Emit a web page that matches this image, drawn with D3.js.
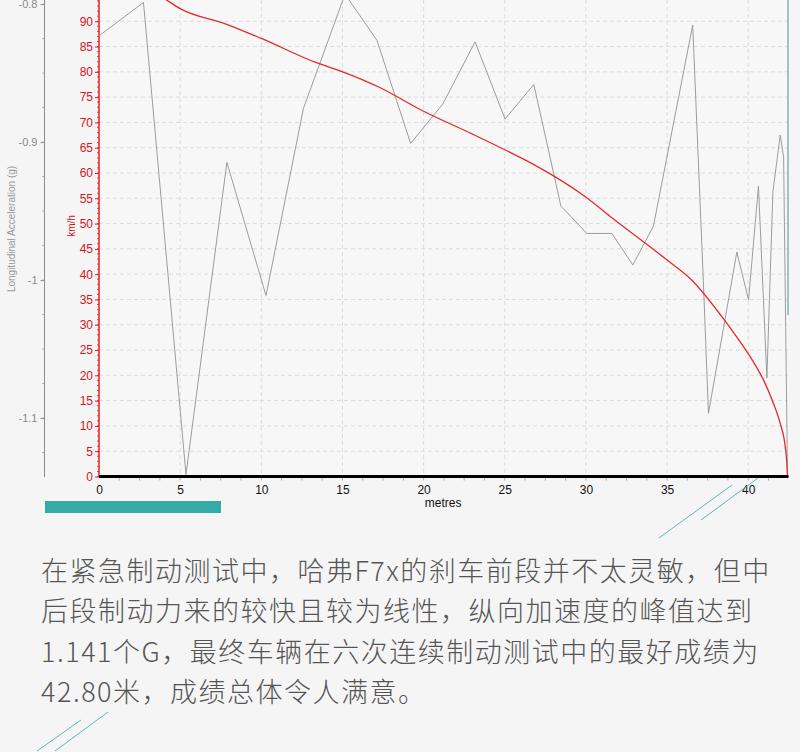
<!DOCTYPE html>
<html>
<head>
<meta charset="utf-8">
<script src="https://cdn.jsdelivr.net/npm/d3@7"></script>
<style>
body { margin: 0; background: #f5f5f5; }
svg { display: block; }
</style>
</head>
<body>
<svg id="chart" width="800" height="752"></svg>
<script>
// speed trace (red, km/h) against distance
var speedDist = [0, 4.07, 5.0, 7.87, 10.0, 13.4, 14.85, 17.3, 20.0, 23.07, 25.0, 26.77, 30.05, 31.5, 35.0, 36.5, 38.4, 39.2, 40.12, 40.94, 41.55, 41.97, 42.28, 42.38, 42.42];
var speedKmh  = [103, 94.4, 92.5, 89.4, 86.6, 81.8, 80.2, 76.9, 72.2, 67.6, 64.6, 61.7, 55.1, 51.4, 42.8, 38.9, 31.5, 28.0, 23.7, 19.1, 14.5, 10.5, 5.9, 2.6, 0];

// longitudinal acceleration (grey, g) against distance
var accDist = [0, 2.74, 5.36, 7.88, 10.29, 12.6, 15.16, 17.12, 19.2, 21.18, 23.17, 25.02, 26.79, 28.46, 30.06, 31.6, 32.89, 34.16, 36.58, 37.24, 37.55, 39.3, 40.02, 40.63, 41.15, 41.52, 41.97, 42.18, 42.42];
var accG    = [-0.823, -0.7988, -1.141, -0.9147, -1.0112, -0.8754, -0.7928, -0.8261, -0.9009, -0.8725, -0.8273, -0.8833, -0.8582, -0.9464, -0.9662, -0.9662, -0.9891, -0.9609, -0.8152, -1.0022, -1.0966, -0.9797, -1.0145, -0.9319, -1.0710, -0.9360, -0.8949, -0.9107, -1.142];

var distTicks  = [0, 5, 10, 15, 20, 25, 30, 35, 40];
var speedTicks = [0, 5, 10, 15, 20, 25, 30, 35, 40, 45, 50, 55, 60, 65, 70, 75, 80, 85, 90, 95];
var accTicks   = [-0.8, -0.9, -1, -1.1];

var bodyLines = [
  "在紧急制动测试中，哈弗F7x的刹车前段并不太灵敏，但中",
  "后段制动力来的较快且较为线性，纵向加速度的峰值达到",
  "1.141个G，最终车辆在六次连续制动测试中的最好成绩为",
  "42.80米，成绩总体令人满意。"
];

var plotLeft = 99, plotRight = 787.5, plotBottom = 476.5;
var axisFont = "'Liberation Sans', Arial, sans-serif";

var svg = d3.select('#chart');

var x = d3.scaleLinear().domain([0, 42.42]).range([plotLeft, plotRight]);
var ySpeed = d3.scaleLinear().domain([0, 94.2]).range([plotBottom, 0]);
var yAcc = d3.scaleLinear().domain([-1.142, -0.797]).range([476, 0]);

svg.append('rect')
  .attr('x', 0).attr('y', 0)
  .attr('width', 800).attr('height', 752)
  .style('fill', '#f5f5f5');

svg.append('rect')
  .attr('x', plotLeft).attr('y', 0)
  .attr('width', plotRight - plotLeft).attr('height', plotBottom)
  .style('fill', '#f7f7f7');

svg.append('defs').append('clipPath').attr('id', 'plotClip')
  .append('rect')
  .attr('x', plotLeft).attr('y', 0)
  .attr('width', plotRight - plotLeft + 1).attr('height', plotBottom);

// dashed grid
var grid = svg.append('g').attr('id', 'grid');
grid.selectAll('line.vgrid')
  .data(distTicks.filter(function(d) { return d > 0; }))
  .enter().append('line')
  .attr('class', 'vgrid')
  .attr('x1', function(d) { return x(d); })
  .attr('x2', function(d) { return x(d); })
  .attr('y1', 0).attr('y2', plotBottom)
  .style('stroke', '#dcdcdc')
  .style('stroke-dasharray', '4,3');

grid.selectAll('line.hgrid')
  .data(speedTicks.filter(function(d) { return d > 0 && d < 95; }))
  .enter().append('line')
  .attr('class', 'hgrid')
  .attr('x1', plotLeft).attr('x2', plotRight)
  .attr('y1', function(d) { return ySpeed(d); })
  .attr('y2', function(d) { return ySpeed(d); })
  .style('stroke', '#dcdcdc')
  .style('stroke-dasharray', '4,3');

// left acceleration axis (grey)
var accAxis = svg.append('g')
  .attr('transform', 'translate(44.5,0)')
  .call(d3.axisLeft(yAcc).tickValues(accTicks).tickSize(4).tickSizeOuter(0)
    .tickFormat(function(d) { return String(d); }));
accAxis.select('.domain').attr('d', 'M0,0V477').style('stroke', '#8a8a8a');
accAxis.selectAll('.tick line').style('stroke', '#8a8a8a');
accAxis.selectAll('.tick text')
  .style('fill', '#8a8a8a')
  .style('font-family', axisFont)
  .style('font-size', '11px');

accAxis.selectAll('line.minor')
  .data(d3.range(-1.125, -0.79, 0.025))
  .enter().append('line')
  .attr('class', 'minor')
  .attr('x1', -2).attr('x2', 0)
  .attr('y1', function(d) { return yAcc(d); })
  .attr('y2', function(d) { return yAcc(d); })
  .style('stroke', '#9a9a9a');

svg.append('text')
  .attr('transform', 'translate(15,229) rotate(-90)')
  .attr('text-anchor', 'middle')
  .style('font-family', axisFont)
  .style('font-size', '10px')
  .style('fill', '#999')
  .text('Longitudinal Acceleration (g)');

// red speed axis
var speedAxis = svg.append('g')
  .attr('transform', 'translate(' + plotLeft + ',0)')
  .call(d3.axisLeft(ySpeed).tickValues(speedTicks).tickSize(4).tickSizeOuter(0).tickPadding(2));
speedAxis.select('.domain').attr('d', 'M0,0V' + plotBottom).style('stroke', '#e0201e').style('stroke-width', 1.5);
speedAxis.selectAll('.tick line').style('stroke', '#e0201e');
speedAxis.selectAll('.tick text')
  .style('fill', '#d8141c')
  .style('font-family', axisFont)
  .style('font-size', '12px');

speedAxis.selectAll('line.minor')
  .data(d3.range(0, 95, 1))
  .enter().append('line')
  .attr('class', 'minor')
  .attr('x1', -2).attr('x2', 0)
  .attr('y1', function(d) { return ySpeed(d); })
  .attr('y2', function(d) { return ySpeed(d); })
  .style('stroke', '#e0201e')
  .style('stroke-width', 0.8);

svg.append('text')
  .attr('transform', 'translate(75,226) rotate(-90)')
  .attr('text-anchor', 'middle')
  .style('font-family', axisFont)
  .style('font-size', '10px')
  .style('fill', '#d8141c')
  .text('km/h');

// x axis
var distAxis = svg.append('g')
  .attr('transform', 'translate(0,' + plotBottom + ')')
  .call(d3.axisBottom(x).tickValues(distTicks).tickSize(0).tickPadding(9));
distAxis.select('.domain').remove();
distAxis.selectAll('.tick text')
  .style('fill', '#111')
  .style('font-family', axisFont)
  .style('font-size', '12px');

distAxis.selectAll('line.minor')
  .data(d3.range(1.25, 42.4, 1.25))
  .enter().append('line')
  .attr('class', 'minor')
  .attr('x1', function(d) { return x(d); })
  .attr('x2', function(d) { return x(d); })
  .attr('y1', 1).attr('y2', 4)
  .style('stroke', '#aaa');

svg.append('text')
  .attr('x', x(21.2)).attr('y', 507)
  .attr('text-anchor', 'middle')
  .style('font-family', axisFont)
  .style('font-size', '12px')
  .style('fill', '#111')
  .text('metres');

// data lines
var plot = svg.append('g').attr('clip-path', 'url(#plotClip)');

var accLine = d3.line()
  .x(function(d, i) { return x(accDist[i]); })
  .y(function(d) { return yAcc(d); });

plot.append('path')
  .attr('d', accLine(accG))
  .style('fill', 'none')
  .style('stroke', '#9c9c9c')
  .style('stroke-width', 1);

var speedLine = d3.line()
  .x(function(d, i) { return x(speedDist[i]); })
  .y(function(d) { return ySpeed(d); })
  .curve(d3.curveMonotoneX);

plot.append('path')
  .attr('d', speedLine(speedKmh))
  .style('fill', 'none')
  .style('stroke', '#e42b2b')
  .style('stroke-width', 1.3);

// baseline and right border
svg.append('line')
  .attr('x1', plotLeft).attr('x2', plotRight + 1)
  .attr('y1', plotBottom).attr('y2', plotBottom)
  .style('stroke', '#000')
  .style('stroke-width', 3);

svg.append('line')
  .attr('x1', plotRight + 0.5).attr('x2', plotRight + 0.5)
  .attr('y1', 0).attr('y2', 315)
  .style('stroke', '#5fa7a8')
  .style('stroke-width', 1.2);

// teal decorations
svg.append('rect')
  .attr('x', 45).attr('y', 501)
  .attr('width', 176).attr('height', 12)
  .style('fill', '#35aaa7');

var strokes = [[659, 538, 732, 485], [701, 520, 758, 478], [37, 751, 81, 720], [55, 751, 108, 712]];
svg.selectAll('line.deco')
  .data(strokes)
  .enter().append('line')
  .attr('class', 'deco')
  .attr('x1', function(d) { return d[0]; })
  .attr('y1', function(d) { return d[1]; })
  .attr('x2', function(d) { return d[2]; })
  .attr('y2', function(d) { return d[3]; })
  .style('stroke', '#5cb8bb')
  .style('stroke-width', 1);

// paragraph below the chart
svg.append('g').attr('id', 'bodyText')
  .selectAll('text')
  .data(bodyLines)
  .enter().append('text')
  .attr('x', 41)
  .attr('y', function(d, i) { return 581 + i * 40.3; })
  .style('font-family', "'Noto Sans CJK SC', sans-serif")
  .style('font-weight', 300)
  .style('font-size', '27px')
  .style('letter-spacing', '1.5px')
  .style('fill', '#555')
  .text(function(d) { return d; });
</script>
</body>
</html>
